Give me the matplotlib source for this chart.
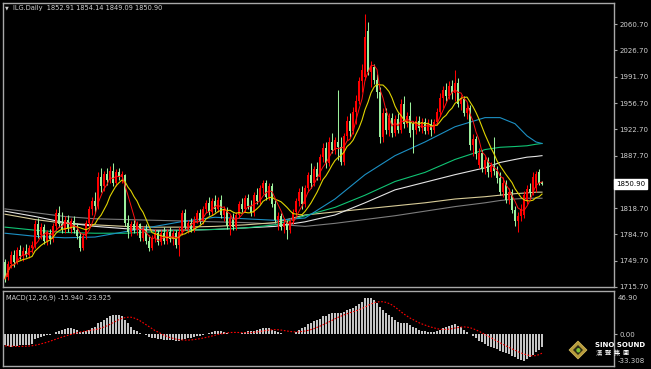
"""
Recreate an MT4-style daily candlestick chart (ILG.Daily) with moving
averages and a MACD(12,26,9) sub-window.
"""
import numpy as np
import pandas as pd
import matplotlib

matplotlib.use("Agg")
import matplotlib.pyplot as plt
from matplotlib.patches import Polygon, Circle

# ---------------------------------------------------------------------------
# Data (one entry per daily bar, oldest first)
# ---------------------------------------------------------------------------
opens = [
    1748, 1728, 1746, 1758, 1748, 1764, 1756, 1762, 1758, 1766,
    1770, 1798, 1784, 1794, 1776, 1786, 1778, 1796, 1812, 1798,
    1790, 1804, 1792, 1802, 1790, 1782, 1766, 1782, 1800, 1818,
    1828, 1822, 1860, 1848, 1864, 1856, 1868, 1852, 1866, 1860,
    1862, 1800, 1788, 1798, 1790, 1798, 1780, 1792, 1776, 1766,
    1780, 1786, 1774, 1786, 1776, 1788, 1778, 1786, 1770, 1788,
    1812, 1794, 1800, 1792, 1804, 1812, 1802, 1818, 1826, 1814,
    1828, 1818, 1830, 1810, 1816, 1796, 1806, 1794, 1810, 1824,
    1818, 1832, 1822, 1812, 1836, 1828, 1846, 1852, 1834, 1848,
    1824, 1804, 1808, 1794, 1800, 1790, 1802, 1814, 1828, 1840,
    1824, 1846, 1862, 1852, 1870, 1860, 1886, 1898, 1878, 1906,
    1896, 1906, 1900, 1880, 1914, 1934, 1920, 1946, 1960, 1986,
    1992, 2052, 1998, 2004, 1988, 1972, 1912, 1944, 1922, 1938,
    1918, 1936, 1922, 1956, 1930, 1940, 1930, 1922, 1934, 1924,
    1932, 1920, 1930, 1922, 1932, 1946, 1964, 1974, 1966, 1980,
    1970, 1984, 1956, 1962, 1944, 1950, 1902, 1910, 1876, 1892,
    1870, 1882, 1866, 1874, 1868, 1858, 1840, 1852, 1830, 1840,
    1816, 1802, 1808, 1810, 1828, 1844, 1840, 1846, 1866, 1852.91,
]
highs = [
    1752, 1750, 1762, 1764, 1768, 1770, 1768, 1772, 1770, 1776,
    1804, 1806, 1800, 1798, 1790, 1792, 1800, 1818, 1822, 1814,
    1808, 1810, 1806, 1808, 1800, 1788, 1786, 1804, 1822, 1834,
    1840, 1866, 1872, 1868, 1872, 1874, 1878, 1870, 1872, 1868,
    1864, 1810, 1802, 1804, 1802, 1800, 1796, 1798, 1784, 1784,
    1792, 1790, 1790, 1794, 1792, 1794, 1790, 1790, 1794, 1816,
    1818, 1804, 1806, 1808, 1816, 1818, 1822, 1830, 1834, 1832,
    1836, 1834, 1836, 1822, 1820, 1810, 1812, 1814, 1828, 1832,
    1836, 1838, 1830, 1840, 1846, 1850, 1856, 1856, 1852, 1852,
    1830, 1814, 1812, 1806, 1804, 1806, 1818, 1832, 1846, 1848,
    1850, 1866, 1878, 1874, 1880, 1890, 1904, 1906, 1912, 1918,
    1912, 1974, 1912, 1918, 1940, 1944, 1952, 1968, 1992, 2008,
    2074, 2064, 2012, 2008, 1996, 1978, 1950, 1950, 1944, 1944,
    1942, 1944, 1962, 1966, 1946, 1958, 1934, 1940, 1940, 1938,
    1938, 1936, 1936, 1936, 1950, 1970, 1980, 1984, 1986, 1988,
    2000, 1990, 1968, 1966, 1956, 1954, 1916, 1914, 1898, 1896,
    1888, 1886, 1880, 1912, 1874, 1866, 1860, 1856, 1846, 1844,
    1822, 1814, 1824, 1842, 1850, 1852, 1866, 1868, 1870, 1854.14,
]
lows = [
    1722, 1725, 1740, 1742, 1745, 1752, 1750, 1755, 1754, 1760,
    1766, 1780, 1778, 1772, 1770, 1772, 1775, 1790, 1794, 1786,
    1786, 1788, 1786, 1786, 1778, 1762, 1764, 1778, 1796, 1810,
    1812, 1818, 1840, 1842, 1850, 1852, 1848, 1848, 1856, 1852,
    1796, 1780, 1782, 1786, 1784, 1776, 1776, 1772, 1762, 1764,
    1774, 1770, 1770, 1772, 1772, 1774, 1770, 1766, 1756, 1784,
    1790, 1786, 1788, 1788, 1800, 1798, 1798, 1812, 1810, 1810,
    1814, 1814, 1806, 1802, 1792, 1784, 1790, 1790, 1806, 1814,
    1814, 1818, 1808, 1808, 1824, 1824, 1838, 1830, 1830, 1820,
    1800, 1790, 1790, 1786, 1778, 1786, 1798, 1810, 1822, 1818,
    1820, 1840, 1846, 1848, 1856, 1856, 1880, 1872, 1874, 1892,
    1890, 1882, 1876, 1876, 1908, 1912, 1916, 1930, 1956, 1972,
    1988, 1994, 1978, 1982, 1964, 1904, 1906, 1916, 1914, 1912,
    1914, 1918, 1918, 1924, 1926, 1912, 1892, 1916, 1920, 1918,
    1916, 1916, 1914, 1918, 1928, 1940, 1950, 1960, 1962, 1962,
    1960, 1952, 1948, 1940, 1936, 1896, 1888, 1884, 1872, 1866,
    1864, 1860, 1860, 1862, 1852, 1836, 1834, 1826, 1824, 1812,
    1796, 1788, 1802, 1806, 1824, 1834, 1836, 1840, 1850, 1849.09,
]
closes = [
    1726, 1746, 1758, 1748, 1764, 1756, 1762, 1758, 1766, 1770,
    1798, 1784, 1794, 1776, 1786, 1778, 1796, 1812, 1798, 1790,
    1804, 1792, 1802, 1790, 1782, 1766, 1782, 1800, 1818, 1828,
    1822, 1860, 1848, 1864, 1856, 1868, 1852, 1866, 1860, 1864,
    1800, 1788, 1798, 1790, 1798, 1780, 1792, 1776, 1766, 1780,
    1786, 1774, 1786, 1776, 1788, 1778, 1786, 1770, 1788, 1812,
    1794, 1800, 1792, 1804, 1812, 1802, 1818, 1826, 1814, 1828,
    1818, 1830, 1810, 1816, 1796, 1806, 1794, 1810, 1824, 1818,
    1832, 1822, 1812, 1836, 1828, 1846, 1852, 1834, 1848, 1824,
    1804, 1808, 1794, 1800, 1790, 1802, 1814, 1828, 1840, 1824,
    1846, 1862, 1852, 1870, 1860, 1886, 1898, 1878, 1906, 1896,
    1908, 1900, 1880, 1914, 1934, 1920, 1946, 1960, 1986, 2000,
    2044, 1998, 2004, 1988, 1972, 1912, 1944, 1922, 1938, 1918,
    1936, 1922, 1956, 1930, 1940, 1918, 1922, 1934, 1924, 1932,
    1920, 1930, 1922, 1932, 1946, 1964, 1974, 1966, 1980, 1970,
    1984, 1956, 1962, 1944, 1950, 1902, 1910, 1890, 1892, 1870,
    1882, 1866, 1874, 1868, 1858, 1840, 1852, 1830, 1840, 1816,
    1802, 1808, 1818, 1836, 1844, 1840, 1860, 1864, 1852, 1850.90,
]

# long moving averages, sampled at these bar numbers
ma_bars = [0, 10, 20, 30, 40, 50, 60, 70, 80, 90, 100, 110, 120, 130,
           140, 150, 160, 165, 170, 174, 177, 179]
ma_blue = [1786, 1782, 1780, 1781, 1788, 1795, 1802, 1807, 1805, 1803, 1806,
           1831, 1863, 1888, 1906, 1926, 1938, 1938, 1930, 1914, 1906, 1904]
ma_green = [1794, 1790, 1787, 1786, 1786, 1788, 1790, 1791, 1793, 1797, 1809,
            1820, 1836, 1854, 1866, 1883, 1896, 1899, 1900, 1901, 1903, 1904]
ma_white = [1815, 1808, 1800, 1795, 1792, 1790, 1790, 1791, 1793, 1795, 1801,
            1810, 1826, 1843, 1853, 1863, 1872, 1879, 1883, 1886, 1887, 1888]
ma_tan = [1811, 1804, 1799, 1797, 1795, 1794, 1794, 1795, 1797, 1800, 1810,
          1814, 1818, 1822, 1826, 1831, 1834, 1836, 1838, 1839, 1840, 1840]
ma_gray = [1818, 1813, 1808, 1805, 1804, 1803, 1802, 1801, 1800, 1798, 1795,
           1799, 1804, 1809, 1815, 1821, 1826, 1829, 1831, 1832, 1832, 1832]

# MACD(12,26,9): main line (histogram) and signal line, one value per bar
macd_main = [
    -14, -15, -16, -15, -15, -14, -14, -13, -13, -12,
    -6, -4, -3, -2, -1, -0.5, 1, 3, 5, 6,
    7, 8, 8, 7, 6, 3, 3, 4, 6, 8,
    10, 14, 16, 19, 21, 23, 25, 25, 25, 24,
    19, 14, 10, 6, 4, 2, 0.5, -1, -3, -4,
    -5, -6, -6, -7, -7, -7, -7, -8, -8, -7,
    -6, -5, -4, -3, -2, -2, -1, 0, 2, 3,
    4, 4, 4, 3, 2, 1, 0, 0, 1, 2,
    3, 4, 4, 5, 6, 7, 8, 8, 8, 6,
    4, 3, 2, 1, 0, 0, 1, 3, 6, 8,
    10, 13, 15, 17, 18, 20, 23, 24, 26, 27,
    28, 28, 28, 29, 31, 32, 34, 36, 39, 42,
    46.9, 46.9, 46, 44, 40, 35, 31, 28, 25, 22,
    19, 16, 15, 15, 14, 12, 10, 8, 6, 5,
    4, 3.5, 3, 3.5, 5, 6, 8, 9.5, 11, 12.5,
    13, 11, 9, 6, 3, 0.5, -2, -5, -8, -10,
    -12.5, -14.5, -16, -17.5, -19, -21, -22.5, -24, -25.5, -27,
    -29, -31, -32.5, -33.3, -31.5, -29, -26.5, -23, -19.5, -15.94,
]
macd_signal = [
    -14.5, -14.7, -15, -15.2, -15.3, -15.3, -15.2, -15, -14.8, -14.4,
    -13.8, -13, -12, -11, -10, -8.6, -7.4, -6, -4.6, -3.4,
    -2.2, -1, 0, 1, 2, 3, 3.8, 4.4, 5, 5.6,
    6.2, 7, 8, 9.5, 11, 13, 15, 17, 19, 20.5,
    21.5, 22, 22, 21, 19.5, 17.5, 15, 12.5, 10, 7.5,
    5, 3, 1, -1, -2.5, -4, -5, -6, -6.6, -7,
    -7.2, -7.2, -7, -6.6, -6, -5.4, -4.6, -3.8, -3, -2,
    -1, 0, 0.8, 1.4, 2, 2.4, 2.6, 2.6, 2.4, 2.3,
    2.2, 2.2, 2.4, 2.8, 3.2, 3.8, 4.4, 5, 5.6, 6,
    6.2, 6, 5.6, 5, 4.4, 3.8, 3.4, 3.2, 3.4, 3.8,
    4.4, 5.2, 6.2, 7.4, 9, 10.6, 12.4, 14.2, 16, 18,
    20, 21.8, 23.4, 25, 26.4, 27.8, 29, 30.2, 31.6, 33.2,
    35, 37, 39, 40.4, 41.4, 41.8, 41.8, 41, 39.6, 37.6,
    35, 32, 29, 26, 23.5, 21, 19, 17, 15, 13.4,
    12, 10.6, 9.4, 8.4, 7.4, 6.6, 6.4, 6.4, 6.8, 7.4,
    8.2, 8.8, 9.4, 9.6, 9.4, 8.6, 7.4, 5.8, 4, 2,
    0, -2, -4.2, -6.4, -8.6, -10.6, -12.6, -14.6, -16.6, -18.4,
    -20.2, -22, -23.6, -25, -26.2, -27, -27.3, -27, -25.8, -23.925,
]

price_ticks = [1715.70, 1749.70, 1784.70, 1818.70, 1887.70, 1922.70,
               1956.70, 1991.70, 2026.70, 2060.70]
symbol = "ILG.Daily"

# ---------------------------------------------------------------------------
W, H = 651, 369
BG = "#000000"
FRAME = "#a8a8a8"
TXT = "#d0d0d0"
UP = "#ff0000"
DOWN = "#9cf09c"


def fx(px):
    return px / W


def fy(py):
    return 1 - py / H


df = pd.DataFrame({"open": opens, "high": highs, "low": lows, "close": closes})
n = len(df)
bars = np.arange(n)
ma5 = df["close"].rolling(5, min_periods=1).mean()
ma10 = df["close"].rolling(10, min_periods=1).mean()

fig = plt.figure(figsize=(W / 100, H / 100), dpi=100, facecolor=BG)
ax = fig.add_axes([fx(3), fy(287), fx(611), 284 / H], facecolor=BG)
ax2 = fig.add_axes([fx(3), fy(366), fx(611), 75 / H], facecolor=BG)

for a in (ax, ax2):
    for s in a.spines.values():
        s.set_color(FRAME)
        s.set_linewidth(1.0)
    a.set_xlim(-0.67, 203)
    a.set_xticks([])

# --- candles ---------------------------------------------------------------
up = df["close"] >= df["open"]
cols = np.where(up, UP, DOWN)
ax.vlines(bars, df["low"], df["high"], colors=cols, linewidth=0.75, zorder=2)
body_lo = np.minimum(df["open"], df["close"])
body_h = np.maximum(np.abs(df["close"] - df["open"]), 1.3)
ax.bar(bars, body_h, bottom=body_lo, width=0.72, color=cols, linewidth=0, zorder=3)

# --- moving averages -------------------------------------------------------
ax.plot(ma_bars, ma_gray, color="#7c7c7c", lw=0.8, zorder=1)
ax.plot(ma_bars, ma_tan, color="#d8cc98", lw=0.8, zorder=1)
ax.plot(ma_bars, ma_white, color="#e4e4e4", lw=0.8, zorder=1)
ax.plot(ma_bars, ma_green, color="#10c474", lw=0.8, zorder=1)
ax.plot(ma_bars, ma_blue, color="#1c90c4", lw=0.8, zorder=1)
ax.plot(bars, ma10, color="#e0d400", lw=0.8, zorder=4)
ax.plot(bars, ma5, color="#ff1010", lw=0.7, zorder=4)

ax.set_ylim(1715.3, 2088.7)
ax.yaxis.tick_right()
ax.set_yticks(price_ticks)
ax.set_yticklabels([f"{v:.2f}" for v in price_ticks])
ax.tick_params(axis="y", colors=FRAME, labelcolor=TXT, labelsize=5,
               length=2.5, width=0.8, pad=1.5)

# current price box
last = closes[-1]
ax.text(1.0035, last, f"{last:.2f}", transform=ax.get_yaxis_transform(),
        ha="left", va="center", fontsize=5, color="#000000",
        bbox=dict(boxstyle="square,pad=0.25", fc="#ffffff", ec="#ffffff"))

# header
fig.text(fx(5), fy(8), "\u25bc", fontsize=3.5, color=TXT, ha="left", va="center")
fig.text(fx(13), fy(8), f"{symbol}  {opens[-1]:.2f} {highs[-1]:.2f} "
         f"{lows[-1]:.2f} {closes[-1]:.2f}", fontsize=4.8, color=TXT,
         ha="left", va="center")

# --- MACD ------------------------------------------------------------------
ax2.bar(bars, macd_main, width=0.36, color="#c4c4c4", linewidth=0)
ax2.plot(bars, macd_signal, color="#ff0000", lw=0.8, ls=(0, (1.5, 1.5)))
ax2.set_ylim(-40.3, 55.5)
ax2.yaxis.tick_right()
ax2.set_yticks([0])
ax2.set_yticklabels(["0.00"])
ax2.tick_params(axis="y", colors=FRAME, labelcolor=TXT, labelsize=5,
                length=2.5, width=0.8, pad=1.5)
ax2.text(1.006, 46.92, f"{max(macd_main):.2f}", transform=ax2.get_yaxis_transform(),
         fontsize=5, color=TXT, ha="left", va="center")
ax2.text(1.006, -33.308, "-33.308", transform=ax2.get_yaxis_transform(),
         fontsize=5, color=TXT, ha="left", va="center")
fig.text(fx(6), fy(298), f"MACD(12,26,9) {macd_main[-1]:.3f} {macd_signal[-1]:.3f}",
         fontsize=4.8, color=TXT, ha="left", va="center")

# --- logo ------------------------------------------------------------------
cx, cy, r = 578, 350, 9
outer = Polygon([(fx(cx), fy(cy - r)), (fx(cx + r), fy(cy)), (fx(cx), fy(cy + r)),
                 (fx(cx - r), fy(cy))], closed=True, fc="#b89c3c", ec="#d8c060",
                lw=0.5, transform=fig.transFigure)
inner = Polygon([(fx(cx), fy(cy - 5)), (fx(cx + 5), fy(cy)), (fx(cx), fy(cy + 5)),
                 (fx(cx - 5), fy(cy))], closed=True, fc="#2c2c18", ec="none",
                transform=fig.transFigure)
fig.patches.extend([outer, inner])
fig.text(fx(cx), fy(cy), "\u25cf", fontsize=4, color="#7cc030", ha="center", va="center")
fig.text(fx(595), fy(345), "SINO SOUND", fontsize=5, fontweight="bold",
         color="#ffffff", ha="left", va="center")
fig.text(fx(596), fy(353.5), "漢  聲  集  團", fontsize=4.5, color="#ffffff",
         ha="left", va="center", family=["Noto Sans CJK TC", "DejaVu Sans"])

fig.savefig("out.png", dpi=100, facecolor=BG)
